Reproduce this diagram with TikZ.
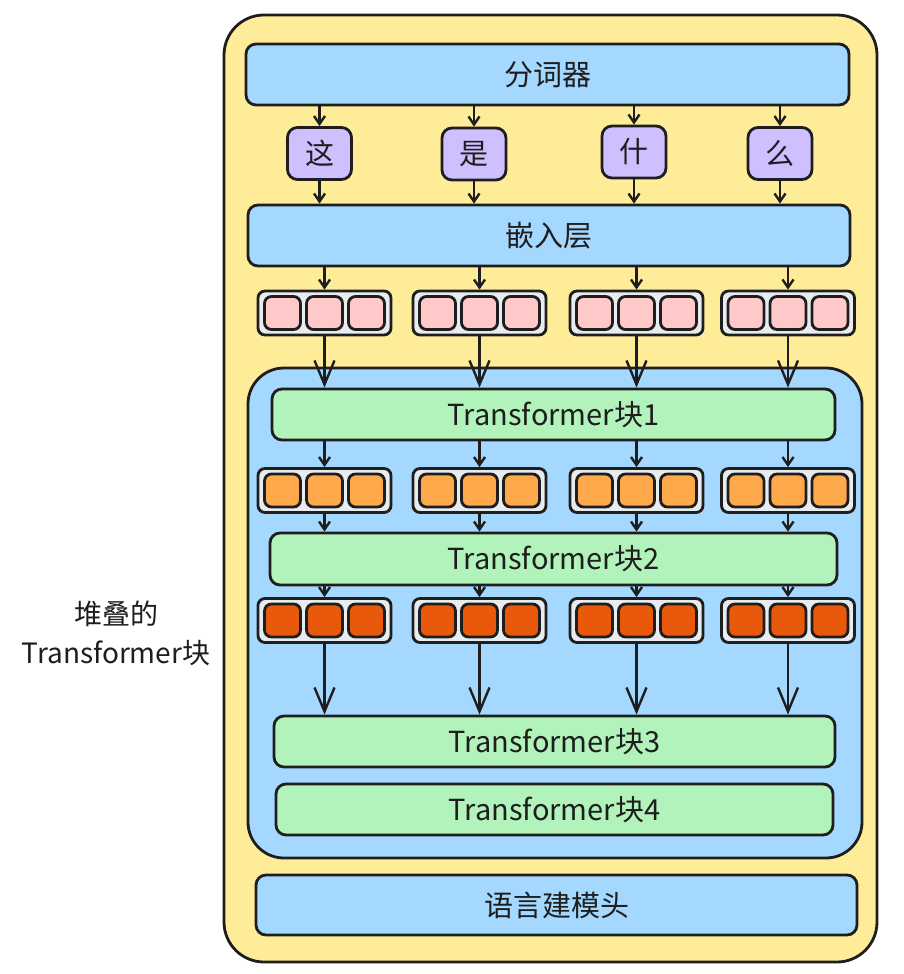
\documentclass[tikz,border=0pt]{standalone}
\usepackage{fontspec}
\setmainfont{Noto Sans CJK SC}
\usetikzlibrary{arrows.meta}
\definecolor{ink}{HTML}{1E1E1E}
\definecolor{ylw}{HTML}{FFEC99}
\definecolor{blu}{HTML}{A5D8FF}
\definecolor{vio}{HTML}{D0BFFF}
\definecolor{grn}{HTML}{B2F2BB}
\definecolor{pnk}{HTML}{FFC9C9}
\definecolor{gry}{HTML}{E9ECEF}
\definecolor{org}{HTML}{FFA94D}
\definecolor{red}{HTML}{E8590C}
\tikzset{
  box/.style={draw=ink, line width=2.8pt, rounded corners=10pt, inner sep=0pt, text=ink, font=\fontsize{29}{34}\selectfont},
  tokbox/.style={box, fill=vio, minimum width=64, minimum height=52},
  grp/.style={draw=ink, line width=2.8pt, rounded corners=7pt, fill=gry, minimum width=133, minimum height=44, inner sep=0pt},
  cell/.style={draw=ink, line width=2.8pt, rounded corners=7pt, minimum width=36, minimum height=33, inner sep=0pt},
  arr/.style={draw=ink, line width=2.4pt, -{Straight Barb[length=8pt,width=11pt,line width=2.4pt]}},
  bigarr/.style={draw=ink, line width=2.4pt, -{Straight Barb[length=24pt,width=20pt,line width=2.4pt]}},
}
\newcommand{\vgrp}[4]{%
  \node[grp] (#1) at (#2,#3) {};
  \node[cell, fill=#4] (#1a) at ({#2-42},#3) {};
  \node[cell, fill=#4] (#1b) at (#2,#3) {};
  \node[cell, fill=#4] (#1c) at ({#2+42},#3) {};
}
\begin{document}
\begin{tikzpicture}[x=1pt,y=-1pt]
\useasboundingbox[fill=white] (0,0) rectangle (904,974);

\node[box, fill=ylw, rounded corners=40pt, minimum width=653, minimum height=947] (outer) at (550.5,488.5) {};
\node[box, fill=blu, rounded corners=36pt, minimum width=614, minimum height=490] (stack) at (555,613) {};

\node[box, fill=blu, minimum width=603, minimum height=61] (tokz) at (547.5,74.5) {分词器};
\node[tokbox] (t1) at (319.5,153.5) {这};
\node[tokbox] (t2) at (474,154) {是};
\node[tokbox] (t3) at (634,152) {什};
\node[tokbox] (t4) at (780,153.5) {么};
\node[box, fill=blu, minimum width=602, minimum height=61] (emb) at (549,235.5) {嵌入层};

\vgrp{p1}{324.5}{313}{pnk}
\vgrp{p2}{479.5}{313}{pnk}
\vgrp{p3}{636.5}{313}{pnk}
\vgrp{p4}{788}{313}{pnk}

\node[box, fill=grn, minimum width=563, minimum height=51] (b1) at (553.5,414.5) {Transformer块1};

\vgrp{o1}{324.5}{490.5}{org}
\vgrp{o2}{479.5}{490.5}{org}
\vgrp{o3}{636.5}{490.5}{org}
\vgrp{o4}{788}{490.5}{org}

\node[box, fill=grn, minimum width=567, minimum height=52] (b2) at (553.5,559) {Transformer块2};

\vgrp{r1}{324.5}{620.5}{red}
\vgrp{r2}{479.5}{620.5}{red}
\vgrp{r3}{636.5}{620.5}{red}
\vgrp{r4}{788}{620.5}{red}

\node[box, fill=grn, minimum width=561, minimum height=51] (b3) at (554.5,741.5) {Transformer块3};
\node[box, fill=grn, minimum width=557, minimum height=51] (b4) at (554.5,809.5) {Transformer块4};

\node[box, fill=blu, minimum width=601, minimum height=60] (head) at (556.5,905) {语言建模头};

\node[align=center, text=ink, font=\fontsize{28}{39}\selectfont, inner sep=0pt] (lbl) at (116,633) {堆叠的\\Transformer块};

% arrows
\foreach \i in {1,...,4} {
  \draw[arr] (t\i.north |- tokz.south) -- (t\i.north);
  \draw[arr] (t\i.south) -- (t\i.south |- emb.north);
}
\foreach \i in {1,...,4} {
  \draw[arr] (p\i.north |- emb.south) -- (p\i.north);
  \draw[bigarr] (p\i.south) -- (p\i.south |- b1.north);
  \draw[arr] (o\i.north |- b1.south) -- (o\i.north);
  \draw[arr] (o\i.south) -- (o\i.south |- b2.north);
  \draw[arr] (r\i.north |- b2.south) -- (r\i.north);
  \draw[bigarr] (r\i.south) -- (r\i.south |- b3.north);
}
\end{tikzpicture}
\end{document}
